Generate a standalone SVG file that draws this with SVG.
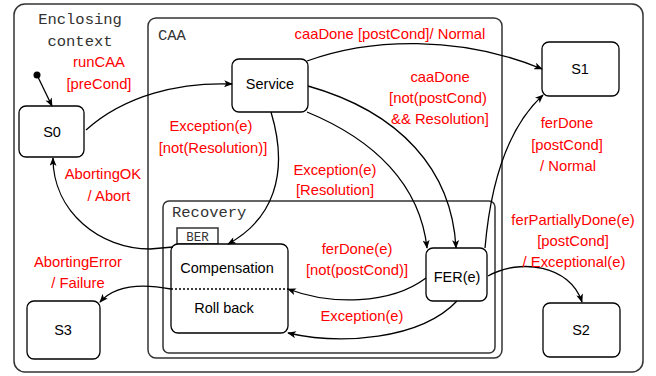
<svg xmlns="http://www.w3.org/2000/svg" width="656" height="376" viewBox="0 0 656 376">
<style>
.box{fill:#fff;stroke:#333;stroke-width:1.5}
.node{fill:#fff;stroke:#000;stroke-width:1.3}
.mono{font-family:"Liberation Mono","Courier New",monospace;fill:#333}
.lbl{font-family:"Liberation Sans",Arial,sans-serif;font-size:14.5px;fill:#000;text-anchor:middle}
.red{font-family:"Liberation Sans",Arial,sans-serif;font-size:14.8px;fill:#ff0000;text-anchor:middle}
.edge{fill:none;stroke:#000;stroke-width:1.3;marker-end:url(#arr)}
</style>
<defs>
<marker id="arr" viewBox="0 0 10 8" refX="9" refY="4" markerWidth="9" markerHeight="7" markerUnits="userSpaceOnUse" orient="auto">
<path d="M0,0 L10,4 L0,8 L2.5,4 z" fill="#000"/>
</marker>
</defs>
<rect id="enclosing" class="box" x="14" y="4" width="629" height="368" rx="11"/>
<text class="mono" x="80" y="24" font-size="15.5" text-anchor="middle">Enclosing</text>
<text class="mono" x="80" y="46" font-size="15.5" text-anchor="middle">context</text>
<g id="caa">
<rect class="box" x="148" y="18" width="354" height="340" rx="8"/>
<text class="mono" x="158" y="40" font-size="15.5">CAA</text>
</g>
<g id="recovery">
<rect class="box" x="163" y="201" width="332" height="152" rx="6"/>
<text class="mono" x="172" y="217" font-size="15.5">Recovery</text>
</g>
<g id="ber">
<rect class="box" x="177" y="228" width="41" height="16" fill="#fff" stroke-width="1.3"/>
<text class="mono" x="197.5" y="241" font-size="12.5" text-anchor="middle">BER</text>
</g>
<g id="init"><circle cx="37" cy="75" r="3.5" fill="#000"/></g>
<g id="S0"><rect class="node" x="19" y="106" width="65" height="51" rx="7"/><text class="lbl" x="52" y="137">S0</text></g>
<g id="Service"><rect class="node" x="232" y="59" width="76" height="53" rx="7"/><text class="lbl" x="270" y="89">Service</text></g>
<g id="S1"><rect class="node" x="542" y="42" width="77" height="54" rx="7"/><text class="lbl" x="580" y="74">S1</text></g>
<g id="FER"><rect class="node" x="426" y="248" width="61" height="53" rx="7"/><text class="lbl" x="457" y="282">FER(e)</text></g>
<g id="S2"><rect class="node" x="543" y="303" width="77" height="54" rx="7"/><text class="lbl" x="581" y="335">S2</text></g>
<g id="S3"><rect class="node" x="27" y="301" width="73" height="58" rx="7" fill="#c0c0c0"/><text class="lbl" x="63" y="335">S3</text></g>
<g id="BERstate">
<rect class="node" x="171" y="244" width="117" height="89" rx="7"/>
<line x1="171" y1="289" x2="288" y2="289" stroke="#000" stroke-width="1.3" stroke-dasharray="2,2"/>
<text class="lbl" x="227" y="273">Compensation</text>
<text class="lbl" x="224" y="313">Roll back</text>
</g>
<g id="connectors">
<path class="edge" d="M37,75 L52,106"/>
<path class="edge" d="M86,130 C 125,95 180,82 232,84"/>
<path class="edge" d="M307,61 C 370,38 460,35 542,69"/>
<path class="edge" d="M308,86 C 400,112 452,170 456,248"/>
<path class="edge" d="M307,112 C 375,140 420,185 427,248"/>
<path class="edge" d="M271,112 C 290,175 272,220 228,244"/>
<path class="edge" d="M173,247 L150,249 C 100,249 53,212 53,158"/>
<path class="edge" d="M171,289 C 140,283 115,285 100,302"/>
<path class="edge" d="M426,278 C 390,305 330,305 288,289"/>
<path class="edge" d="M457,301 C 420,340 340,345 288,333"/>
<path class="edge" d="M485,248 C 490,190 505,130 543,95"/>
<path class="edge" d="M488,276 C 520,258 570,265 582,302"/>
</g>
<g id="labels">
<text class="red" x="99" y="67">runCAA</text>
<text class="red" x="99" y="89">[preCond]</text>
<text class="red" x="390" y="39">caaDone [postCond]/ Normal</text>
<text class="red" x="440" y="82">caaDone</text>
<text class="red" x="438" y="103">[not(postCond)</text>
<text class="red" x="440" y="124">&amp;&amp; Resolution]</text>
<text class="red" x="567" y="128">ferDone</text>
<text class="red" x="567" y="150">[postCond]</text>
<text class="red" x="568" y="171">/ Normal</text>
<text class="red" x="211" y="131">Exception(e)</text>
<text class="red" x="213" y="153">[not(Resolution)]</text>
<text class="red" x="335" y="175">Exception(e)</text>
<text class="red" x="335" y="195">[Resolution]</text>
<text class="red" x="103" y="179">AbortingOK</text>
<text class="red" x="109" y="201">/ Abort</text>
<text class="red" x="78" y="267">AbortingError</text>
<text class="red" x="78" y="288">/ Failure</text>
<text class="red" x="357" y="254">ferDone(e)</text>
<text class="red" x="357" y="275">[not(postCond)]</text>
<text class="red" x="362" y="321">Exception(e)</text>
<text class="red" x="573" y="225">ferPartiallyDone(e)</text>
<text class="red" x="573" y="246">[postCond]</text>
<text class="red" x="574" y="267">/ Exceptional(e)</text>
</g>
</svg>
